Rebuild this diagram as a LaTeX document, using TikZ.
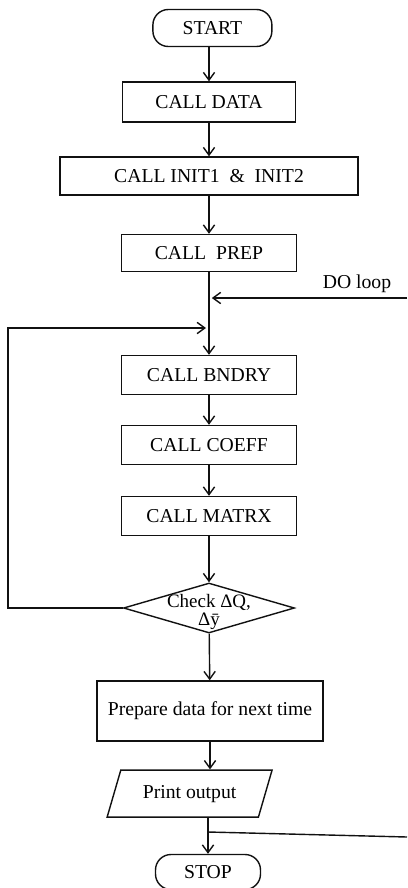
\documentclass[tikz,border=0pt]{standalone}
\usepackage{fontspec}
\setmainfont{Liberation Serif}
\usetikzlibrary{arrows.meta,shapes.geometric}
\definecolor{lineblack}{HTML}{111111}

\begin{document}
\begin{tikzpicture}[line width=1pt, >={Straight Barb[length=5.5pt,width=8pt]},
  font=\fontsize{14}{15}\selectfont,
  box/.style={draw=lineblack, minimum height=0.975cm, inner sep=0pt},
  terminal/.style={draw=lineblack, rounded corners=11pt, minimum height=0.925cm},
  decision/.style={draw=lineblack, diamond, minimum width=4.275cm, minimum height=1.25cm, inner sep=0pt},
  io/.style={draw=lineblack, trapezium, trapezium left angle=69, trapezium right angle=111,
    trapezium stretches=true, minimum width=4.125cm, minimum height=1.175cm}]
  \useasboundingbox (0,0) rectangle (10.175,-22.2);

  \node[terminal, minimum width=2.975cm] (start) at (5.31,-0.7) {START};
  \node[box, minimum width=4.325cm, minimum height=1cm] (data) at (5.225,-2.55) {CALL DATA};
  \node[box, minimum width=7.45cm, minimum height=0.95cm] (init) at (5.225,-4.4) {CALL INIT1 \ \& \ INIT2};
  \node[box, minimum width=4.375cm, minimum height=0.925cm] (prep) at (5.225,-6.325) {CALL \ PREP};
  \node[box, minimum width=4.375cm] (bndry) at (5.225,-9.375) {CALL BNDRY};
  \node[box, minimum width=4.375cm] (coeff) at (5.225,-11.125) {CALL COEFF};
  \node[box, minimum width=4.375cm] (matrx) at (5.225,-12.9) {CALL MATRX};
  \node[decision] (check) at (5.225,-15.2) {};
  \node[align=center, font=\fontsize{13.5}{12.5}\selectfont] (checktext) at (5.225,-15.3) {Check ΔQ,\\Δ\={y}};
  \node[box, minimum width=5.65cm, minimum height=1.5cm] (prepare) at (5.25,-17.775) {Prepare data for next time};
  \node[io] (print) at (4.74,-19.84) {Print output};
  \node[terminal, minimum width=2.625cm, minimum height=0.875cm] (stop) at (5.2,-21.8) {STOP};
  \node (dolabel) at (8.925,-7.1) {DO loop};

  % main chain
  \draw[lineblack, ->] (start.south -| data) -- (data);
  \foreach \a/\b in {data/init,init/prep,prep/bndry,bndry/coeff,coeff/matrx,matrx/check,check/prepare}{
    \draw[lineblack, ->] (\a) -- (\b);
  }
  \draw[lineblack, ->] (prepare) -- (prepare |- print.north);
  \draw[lineblack, ->] (print.south -| stop) -- (stop);

  % loops
  \coordinate (doin) at (10.175,-7.45);
  \coordinate (loopx) at (0.2,-8.2);
  \coordinate (loopin) at (5.15,-8.2);
  \draw[lineblack, ->] (doin) -- ([xshift=2pt]doin -| prep);
  \draw[lineblack, ->] (check.west) -| (loopx) -- (loopin);
  \coordinate (outstart) at (5.2,-20.8);
  \coordinate (outend) at (10.175,-20.925);
  \draw[lineblack] (outstart) -- (outend);
\end{tikzpicture}
\end{document}
